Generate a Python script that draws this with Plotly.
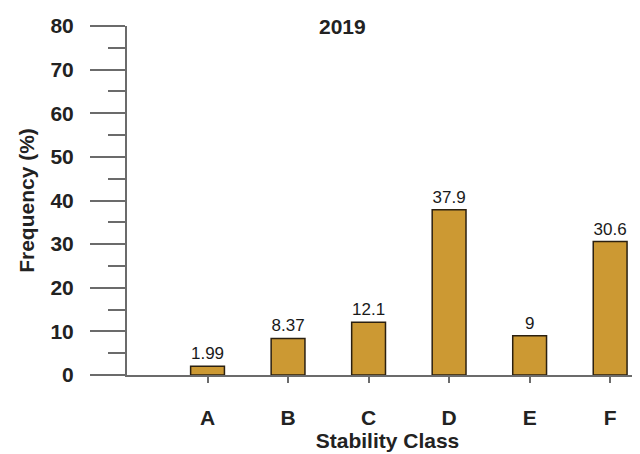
import plotly.graph_objects as go

categories = ["A", "B", "C", "D", "E", "F"]
frequency = [1.99, 8.37, 12.1, 37.9, 9, 30.6]
labels = ["1.99", "8.37", "12.1", "37.9", "9", "30.6"]
y_ticks = [0, 10, 20, 30, 40, 50, 60, 70, 80]
title_text = "2019"

FONT = "Liberation Sans, Arial, sans-serif"

fig = go.Figure()
fig.add_trace(go.Bar(
    x=categories, y=frequency, width=0.42,
    marker=dict(color="#CC9933", line=dict(color="#2b2010", width=1.5)),
    text=labels, textposition="outside", cliponaxis=False,
    textfont=dict(family=FONT, size=17, color="#1a1a1a"),
))

fig.update_layout(
    width=640, height=446,
    margin=dict(l=119, r=0, t=18, b=79, autoexpand=False),
    plot_bgcolor="white", paper_bgcolor="white",
    showlegend=False,
    font=dict(family=FONT, color="#222"),
    annotations=[dict(text="<b>" + title_text + "</b>", x=0.42 * 513 / 521, y=1.0, xref="paper", yref="paper",
                      xanchor="center", yanchor="middle", showarrow=False,
                      font=dict(family=FONT, size=21, color="#222"))],
)

fig.update_xaxes(
    type="category", range=[-1, 5.47], automargin=False,
    showline=True, linecolor="#6b6b6b", linewidth=2,
    ticks="outside", ticklen=6, tickwidth=1.5, tickcolor="#6b6b6b",
    tickfont=dict(family=FONT, size=21, color="#222", weight="bold"),
    ticklabelstandoff=17,
    title=dict(text="<b>Stability Class</b>", font=dict(family=FONT, size=21, color="#222"), standoff=4),
    showgrid=False, zeroline=False,
)

fig.update_yaxes(
    range=[0, 80], tickvals=y_ticks, automargin=False,
    showline=True, linecolor="#6b6b6b", linewidth=2,
    ticks="outside", ticklen=35, tickwidth=2, tickcolor="#6b6b6b",
    minor=dict(dtick=5, ticks="outside", ticklen=17, tickwidth=2, tickcolor="#6b6b6b"),
    tickfont=dict(family=FONT, size=21, color="#222", weight="bold"),
    ticklabelstandoff=12,
    title=dict(text="<b>Frequency (%)</b>", font=dict(family=FONT, size=21, color="#222"), standoff=10),
    showgrid=False, zeroline=False,
)

fig.write_html("out.html")
